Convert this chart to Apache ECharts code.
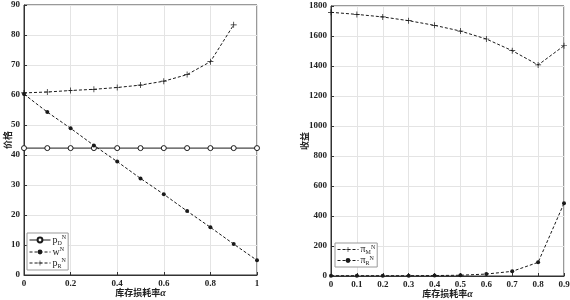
<!DOCTYPE html>
<html>
<head>
<meta charset="utf-8">
<script src="https://cdn.jsdelivr.net/npm/echarts@6/dist/echarts.min.js"></script>
<style>
  html, body { margin: 0; padding: 0; background: #fff; }
  #main { width: 570px; height: 300px; }
</style>
</head>
<body>
<div id="main"></div>
<script>
// left panel: prices
const alphaLeft = [0, 0.1, 0.2, 0.3, 0.4, 0.5, 0.6, 0.7, 0.8, 0.9, 1.0];
const pD = [42.3, 42.3, 42.3, 42.3, 42.3, 42.3, 42.3, 42.3, 42.3, 42.3, 42.3];
const wN = [60.3, 54.3, 48.9, 43.2, 37.8, 32.2, 26.9, 21.3, 15.9, 10.3, 4.9];
const alphaPR = [0, 0.1, 0.2, 0.3, 0.4, 0.5, 0.6, 0.7, 0.8, 0.9];
const pR = [60.7, 61.0, 61.5, 61.9, 62.5, 63.3, 64.6, 66.8, 71.1, 83.4];

// right panel: profits
const alphaRight = [0, 0.1, 0.2, 0.3, 0.4, 0.5, 0.6, 0.7, 0.8, 0.9];
const piM = [1758, 1744, 1727, 1702, 1671, 1633, 1580, 1502, 1407, 1535];
const piR = [2, 2, 2, 2, 3, 5, 13, 31, 91, 485];

const pair = (xs, ys) => xs.map((x, i) => [x, ys[i]]);

const plusPath = 'path://M4.4,0H5.6V4.4H10V5.6H5.6V10H4.4V5.6H0V4.4H4.4Z';
const ink = '#1a1a1a';
const tickFont = { fontFamily: 'Liberation Serif', fontWeight: 'bold', fontSize: 9, color: '#222' };
const nameFont = { fontFamily: 'Noto Sans CJK SC', fontWeight: 'bold', fontSize: 9, color: '#222' };
const fmt = v => String(+v.toFixed(1));

function legendRich(lh) {
  return {
    b: { fontFamily: 'Liberation Serif', fontSize: 10, color: '#222', lineHeight: lh, verticalAlign: 'middle' },
    sub: { fontFamily: 'Liberation Serif', fontSize: 6, color: '#222', lineHeight: lh, verticalAlign: 'bottom' },
    sup: { fontFamily: 'Liberation Serif', fontSize: 6, color: '#222', lineHeight: lh, verticalAlign: 'top' }
  };
}
const legendNames = {
  pD: '{b|p}{sub|D}{sup|N}',
  wN: '{b|w}{sup|N}',
  pR: '{b|p}{sub|R}{sup|N}',
  piM: '{b|π}{sub|M}{sup|N}',
  piR: '{b|π}{sub|R}{sup|N}'
};

function xAxisCfg(gridIndex, max, interval) {
  return {
    type: 'value', gridIndex, min: 0, max, interval,
    name: '库存损耗率{a|α}', nameLocation: 'middle', nameGap: 13, nameMoveOverlap: false,
    nameTextStyle: Object.assign({}, nameFont, {
      rich: { a: { fontFamily: 'Liberation Serif', fontStyle: 'italic', fontWeight: 'bold', fontSize: 10, color: '#222' } }
    }),
    axisLine: { lineStyle: { color: '#333', width: 1 } },
    axisTick: { inside: true, length: 3, lineStyle: { color: '#333' } },
    axisLabel: Object.assign({ margin: 4, formatter: fmt }, tickFont),
    splitLine: { show: true, lineStyle: { color: '#e4e4e4', width: 1 } }
  };
}
function yAxisCfg(gridIndex, max, interval, name, gap) {
  return {
    type: 'value', gridIndex, min: 0, max, interval,
    name, nameLocation: 'middle', nameGap: gap, nameMoveOverlap: false, nameTextStyle: nameFont,
    axisLine: { show: true, lineStyle: { color: '#333', width: 1 } },
    axisTick: { show: true, inside: true, length: 3, lineStyle: { color: '#333' } },
    axisLabel: Object.assign({ margin: 4, formatter: v => String(v) }, tickFont),
    splitLine: { show: true, lineStyle: { color: '#e4e4e4', width: 1 } }
  };
}

function legendCfg(names, left, top, lh) {
  return {
    data: names, left, top,
    orient: 'vertical', itemWidth: 21, itemHeight: 6, itemGap: 0, padding: [1, 2, 1, 2],
    borderColor: '#999', borderWidth: 1, backgroundColor: '#fff',
    lineStyle: { width: 1 },
    formatter: n => legendNames[n], textStyle: { padding: [0, 0, 0, -3], rich: legendRich(lh) }
  };
}

const option = {
  backgroundColor: '#fff',
  animation: false,
  grid: [
    { left: 24, right: 313, top: 5, bottom: 25, outerBoundsMode: 'none', containLabel: false,
      show: true, borderColor: '#333', borderWidth: 1, backgroundColor: '#fff' },
    { left: 331, right: 6, top: 6, bottom: 24, outerBoundsMode: 'none', containLabel: false,
      show: true, borderColor: '#333', borderWidth: 1, backgroundColor: '#fff' }
  ],
  xAxis: [xAxisCfg(0, 1, 0.2), xAxisCfg(1, 0.9, 0.1)],
  yAxis: [yAxisCfg(0, 90, 10, '价格', 12), yAxisCfg(1, 1800, 200, '收益', 22)],
  legend: [
    legendCfg(['pD', 'wN', 'pR'], 27, 233, 12),
    legendCfg(['piM', 'piR'], 335, 243, 11)
  ],
  series: [
    {
      name: 'pD', type: 'line', xAxisIndex: 0, yAxisIndex: 0, data: pair(alphaLeft, pD),
      symbol: 'circle', symbolSize: 5, lineStyle: { color: ink, width: 1 },
      itemStyle: { color: '#fff', borderColor: ink, borderWidth: 1 }, z: 3
    },
    {
      name: 'wN', type: 'line', xAxisIndex: 0, yAxisIndex: 0, data: pair(alphaLeft, wN),
      symbol: 'circle', symbolSize: 4, lineStyle: { color: ink, width: 1, type: [3, 2] },
      itemStyle: { color: ink }, z: 4
    },
    {
      name: 'pR', type: 'line', xAxisIndex: 0, yAxisIndex: 0, data: pair(alphaPR, pR),
      symbol: plusPath, symbolSize: 6, lineStyle: { color: ink, width: 1, type: [3, 2] },
      itemStyle: { color: ink }, z: 4
    },
    {
      name: 'piM', type: 'line', xAxisIndex: 1, yAxisIndex: 1, data: pair(alphaRight, piM),
      symbol: plusPath, symbolSize: 6, lineStyle: { color: ink, width: 1, type: [3, 2] },
      itemStyle: { color: ink }, z: 4
    },
    {
      name: 'piR', type: 'line', xAxisIndex: 1, yAxisIndex: 1, data: pair(alphaRight, piR),
      symbol: 'circle', symbolSize: 4, lineStyle: { color: ink, width: 1, type: [3, 2] },
      itemStyle: { color: ink }, z: 4
    }
  ]
};

const chart = echarts.init(document.getElementById('main'), null, { renderer: 'canvas' });
chart.setOption(option);
</script>
</body>
</html>
